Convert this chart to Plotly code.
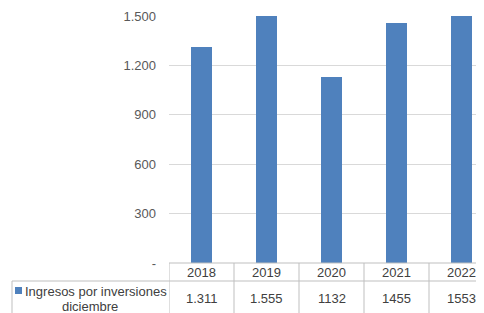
import plotly.graph_objects as go

categories = ["2018", "2019", "2020", "2021", "2022"]
values = [1311, 1555, 1132, 1455, 1553]
value_labels = ["1.311", "1.555", "1132", "1455", "1553"]
series_name_lines = ["Ingresos por inversiones", "diciembre"]
tick_vals = [0, 300, 600, 900, 1200, 1500]
tick_text = ["-", "300", "600", "900", "1.200", "1.500"]

BAR = "#4F81BD"
GRID = "#d9d9d9"
LINE = "#bfbfbf"
TXT = "#404040"
FONT = "Liberation Sans, Arial, sans-serif"

OFF = 8  # page body margin
W, H = 484 - OFF, 313 - OFF
L, T, B = 169 - OFF, 16 - OFF, 50
plot_h = H - T - B
plot_w = W - L

def py(px):
    return (H - B - (px - OFF)) / plot_h

def pxx(px):
    return (px - OFF - L) / plot_w

fig = go.Figure()
fig.add_trace(go.Bar(x=list(range(len(categories))), y=values, width=0.31,
                     marker=dict(color=BAR, line=dict(width=0)), showlegend=False))

shapes = []
shapes.append(dict(type="line", xref="x", yref="paper", x0=-0.5, x1=len(categories) - 0.5,
                   y0=0, y1=0, line=dict(color=LINE, width=1)))
for i in range(len(categories) + 1):
    shapes.append(dict(type="line", xref="x", yref="paper", x0=i - 0.5, x1=i - 0.5,
                       y0=0, y1=py(313), line=dict(color=LINE, width=1)))
shapes.append(dict(type="line", xref="paper", yref="paper", x0=pxx(12), x1=1,
                   y0=py(281), y1=py(281), line=dict(color=LINE, width=1)))
shapes.append(dict(type="line", xref="paper", yref="paper", x0=pxx(12), x1=pxx(12),
                   y0=py(281), y1=py(313), line=dict(color=LINE, width=1)))
shapes.append(dict(type="rect", xref="paper", yref="paper", x0=pxx(15), x1=pxx(22),
                   y0=py(294), y1=py(287), fillcolor=BAR, line=dict(width=0)))

annotations = []
for i, c in enumerate(categories):
    annotations.append(dict(x=i, y=py(272.5), xref="x", yref="paper", text=c, showarrow=False,
                            font=dict(size=13, color=TXT, family=FONT), xanchor="center", yanchor="middle"))
    annotations.append(dict(x=i, y=py(298.5), xref="x", yref="paper", text=value_labels[i], showarrow=False,
                            font=dict(size=13, color=TXT, family=FONT), xanchor="center", yanchor="middle"))
annotations.append(dict(x=pxx(24), y=py(291), xref="paper", yref="paper", text=series_name_lines[0],
                        showarrow=False, xanchor="left", yanchor="middle", borderpad=0,
                        font=dict(size=13, color=TXT, family=FONT)))
annotations.append(dict(x=pxx(90), y=py(306), xref="paper", yref="paper", text=series_name_lines[1],
                        showarrow=False, xanchor="center", yanchor="middle", borderpad=0,
                        font=dict(size=13, color=TXT, family=FONT)))

fig.update_layout(
    width=W, height=H,
    margin=dict(l=L, r=0, t=T, b=B, pad=0),
    paper_bgcolor="white", plot_bgcolor="white",
    bargap=0,
    xaxis=dict(range=[-0.5, -0.5 + plot_w / 65.0], showticklabels=False, showgrid=False,
               zeroline=False, showline=False, ticks=""),
    yaxis=dict(range=[0, 1500], tickvals=tick_vals, ticktext=tick_text, showgrid=True,
               gridcolor=GRID, gridwidth=1, zeroline=False, showline=False, ticks="",
               ticklabelstandoff=12, tickfont=dict(size=13, color="#595959", family=FONT)),
    shapes=shapes, annotations=annotations,
)

fig.write_html("out.html")
